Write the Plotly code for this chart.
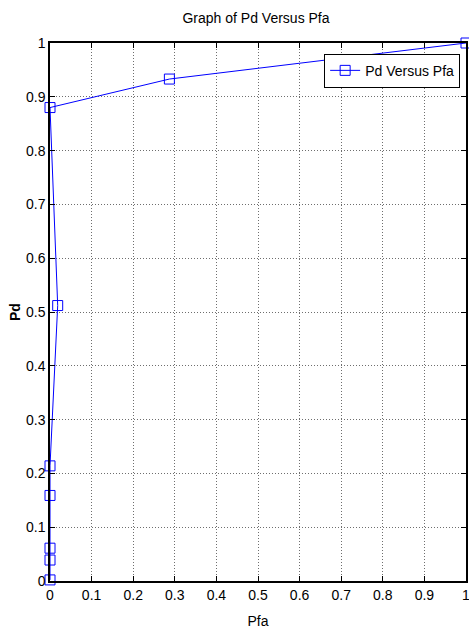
import plotly.graph_objects as go

pfa = [0.0, 0.0, 0.0, 0.0, 0.0, 0.0185, 0.0, 0.287, 1.0]
pd_vals = [0.002, 0.039, 0.061, 0.159, 0.214, 0.512, 0.880, 0.933, 1.0]
tick_vals = [0, 0.1, 0.2, 0.3, 0.4, 0.5, 0.6, 0.7, 0.8, 0.9, 1]
tick_text = ["0", "0.1", "0.2", "0.3", "0.4", "0.5", "0.6", "0.7", "0.8", "0.9", "1"]

FONT = "Liberation Sans, Arial, sans-serif"
W, H = 469, 632

fig = go.Figure()
fig.add_trace(go.Scatter(
    x=pfa, y=pd_vals, mode="lines+markers", name="Pd Versus Pfa",
    line=dict(color="rgb(0,0,255)", width=1),
    marker=dict(symbol="square-open", size=10, color="rgb(0,0,255)", line=dict(width=1)),
    cliponaxis=False,
))

axis_common = dict(
    tickvals=tick_vals, ticktext=tick_text, range=[0, 1],
    showgrid=True, gridcolor="rgb(110,110,110)", griddash="1px,2px", gridwidth=1,
    showline=True, linecolor="black", linewidth=1.5, mirror="ticks",
    ticks="inside", ticklen=5, tickcolor="black", zeroline=False,
    automargin=False, ticklabeloverflow="allow",
    tickfont=dict(family=FONT, size=14, color="black"),
)

fig.update_layout(
    width=W, height=H,
    margin=dict(l=50, r=3, t=43, b=51),
    paper_bgcolor="white", plot_bgcolor="white",
    title=dict(text="Graph of Pd Versus Pfa", x=256 / W, xanchor="center",
               y=1 - 18 / H, yanchor="middle",
               font=dict(family=FONT, size=14, color="black")),
    xaxis=dict(axis_common, title=dict(text="Pfa", standoff=15,
               font=dict(family=FONT, size=14, color="black"))),
    yaxis=dict(axis_common),
    showlegend=True,
    legend=dict(x=0.659, y=0.98, xanchor="left", yanchor="top",
                bgcolor="white", bordercolor="black", borderwidth=1,
                font=dict(family=FONT, size=14, color="black"),
                itemwidth=30),
    annotations=[dict(text="<b>Pd</b>", xref="paper", yref="paper",
                      x=(15 - 50) / 416, y=0.5, xanchor="center", yanchor="middle",
                      textangle=-90, showarrow=False,
                      font=dict(family=FONT, size=14, color="black"))],
)

fig.write_html(
    "out.html",
    config={"displayModeBar": False},
    post_script="document.body.style.margin='0';document.body.style.overflow='hidden';",
)
